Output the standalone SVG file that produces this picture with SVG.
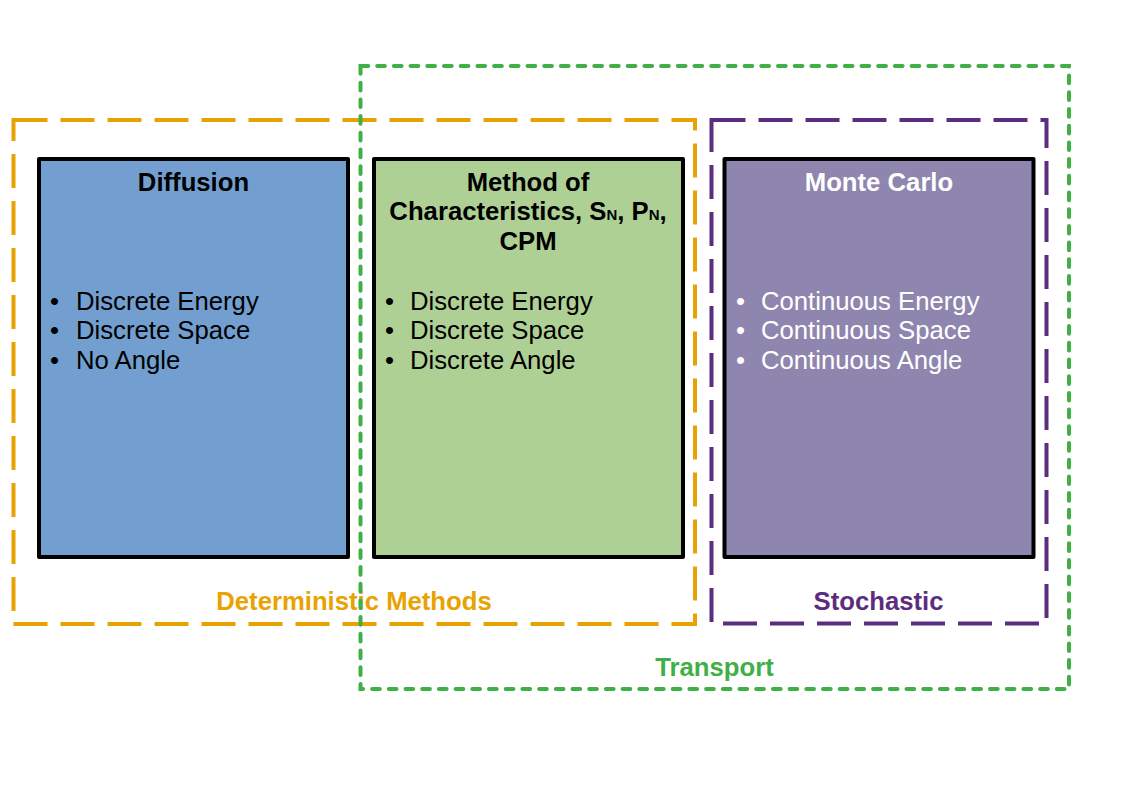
<svg xmlns="http://www.w3.org/2000/svg" width="1123" height="794" viewBox="0 0 1123 794">
<style>
text { font-family: "Liberation Sans", Arial, sans-serif; font-size: 25.7px; }
.title { font-weight: bold; text-anchor: middle; }
.box { stroke: #000; stroke-width: 4; stroke-linejoin: round; }
.grp { fill: none; stroke-width: 4; }
.long { stroke-dasharray: 34 13; }
.label { font-weight: bold; text-anchor: middle; }
.sub { font-size: 15px; }
</style>
<rect width="1123" height="794" fill="#ffffff"/>
<g id="diffusion">
  <rect class="box" x="39" y="159" width="309" height="398" fill="#729FCF"/>
  <text class="title" x="193.5" y="191" fill="#000">Diffusion</text>
  <text x="50" y="309.5" fill="#000">•</text><text x="76" y="309.5" fill="#000">Discrete Energy</text>
  <text x="50" y="339" fill="#000">•</text><text x="76" y="339" fill="#000">Discrete Space</text>
  <text x="50" y="368.5" fill="#000">•</text><text x="76" y="368.5" fill="#000">No Angle</text>
</g>
<g id="moc">
  <rect class="box" x="374" y="159" width="309" height="398" fill="#AFD095"/>
  <text class="title" x="528" y="190.5" fill="#000">Method of</text>
  <text class="title" x="528" y="220" fill="#000">Characteristics, S<tspan class="sub">N</tspan>, P<tspan class="sub">N</tspan>,</text>
  <text class="title" x="528" y="249.5" fill="#000">CPM</text>
  <text x="385" y="309.5" fill="#000">•</text><text x="410" y="309.5" fill="#000">Discrete Energy</text>
  <text x="385" y="339" fill="#000">•</text><text x="410" y="339" fill="#000">Discrete Space</text>
  <text x="385" y="368.5" fill="#000">•</text><text x="410" y="368.5" fill="#000">Discrete Angle</text>
</g>
<g id="montecarlo">
  <rect class="box" x="724.5" y="159" width="309" height="398" fill="#8E86AE"/>
  <text class="title" x="879" y="191" fill="#fff">Monte Carlo</text>
  <text x="736" y="309.5" fill="#fff">•</text><text x="761" y="309.5" fill="#fff">Continuous Energy</text>
  <text x="736" y="339" fill="#fff">•</text><text x="761" y="339" fill="#fff">Continuous Space</text>
  <text x="736" y="368.5" fill="#fff">•</text><text x="761" y="368.5" fill="#fff">Continuous Angle</text>
</g>
<g id="deterministic">
  <rect class="grp long" x="13.5" y="120" width="681.5" height="504" stroke="#E8A202"/>
  <text class="label" x="354" y="610" fill="#E8A202">Deterministic Methods</text>
</g>
<g id="stochastic">
  <rect class="grp long" x="711.5" y="120" width="335" height="503.5" stroke="#5C2D7F"/>
  <text class="label" x="878.5" y="610" fill="#5C2D7F">Stochastic</text>
</g>
<g id="transport">
  <rect class="grp" x="360.5" y="66" width="708.5" height="623" stroke="#3FAF46" stroke-dasharray="7.7 9" stroke-linecap="round"/>
  <text class="label" x="714.5" y="676" fill="#3FAF46">Transport</text>
</g>
</svg>
